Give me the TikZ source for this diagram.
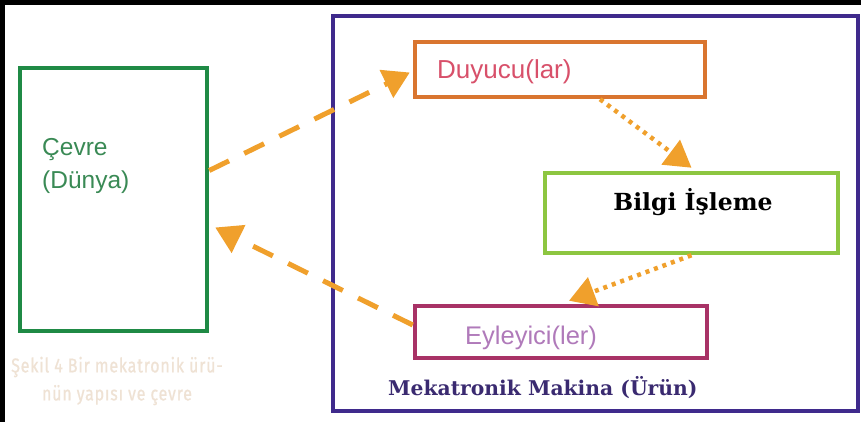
\documentclass[tikz,border=0pt]{standalone}
\usepackage{fontspec}
\setmainfont{DejaVu Serif}
\newfontfamily\lsans{Liberation Sans}
\newfontfamily\capfont[FakeStretch=0.8,LetterSpace=4,FakeBold=0.6]{Fira Sans}
\usetikzlibrary{arrows.meta}
\definecolor{gbox}{HTML}{1F8A45}
\definecolor{pbox}{HTML}{3F2A8C}
\definecolor{obox}{HTML}{D9752F}
\definecolor{lgbox}{HTML}{8DC641}
\definecolor{mbox}{HTML}{A83266}
\definecolor{arr}{HTML}{F0A02C}
\definecolor{duytxt}{HTML}{D8506A}
\definecolor{eyltxt}{HTML}{B07ABA}
\definecolor{mektxt}{HTML}{3A2A70}
\definecolor{cevtxt}{HTML}{3A8A55}
\definecolor{captxt}{HTML}{EFE2D4}
\tikzset{
  box/.style={draw, rectangle, inner sep=0pt, line width=4.5pt},
  dasharrow/.style={draw=arr, line width=5pt, dash pattern=on 22pt off 17pt, -{Triangle[length=26pt,width=30pt,fill=arr]}, shorten >=0pt},
  dotarrow/.style={draw=arr, line width=4.5pt, dash pattern=on 4pt off 5pt, -{Triangle[length=26pt,width=30pt,fill=arr]}},
}
\begin{document}
\begin{tikzpicture}[x=1pt,y=-1pt]
\useasboundingbox (0,0) rectangle (861,422);
\fill[white] (0,0) rectangle (861,422);
\fill[black] (0,0) rectangle (861,5);
\fill[black] (0,0) rectangle (5,422);
% boxes
\node[box, draw=gbox, minimum width=187pt, minimum height=263pt] (green) at (113.5,199.5) {};
\node[box, draw=pbox, line width=3.5pt, minimum width=525pt, minimum height=395pt] (outer) at (595.5,213.5) {};
\node[box, draw=obox, minimum width=290pt, minimum height=55pt] (duy) at (560,69.5) {};
\node[box, draw=lgbox, minimum width=293pt, minimum height=80pt] (bilgi) at (691.5,213) {};
\node[box, draw=mbox, minimum width=292pt, minimum height=52pt] (eyl) at (561,332) {};
% texts
\node[anchor=west, text=duytxt, font=\lsans\fontsize{26}{30}\selectfont, inner sep=0pt] (duyt) at (437,72) {Duyucu(lar)};
\node[text=black, font=\bfseries\fontsize{23.5}{28}\selectfont, inner sep=0pt] (bilgit) at (693,202) {Bilgi İşleme};
\node[anchor=west, text=eyltxt, font=\lsans\fontsize{25.5}{30}\selectfont, inner sep=0pt] (eylt) at (465,338) {Eyleyici(ler)};
\node[anchor=west, text=mektxt, font=\bfseries\fontsize{20.3}{24}\selectfont, inner sep=0pt] (mekt) at (388,388) {Mekatronik Makina (Ürün)};
\node[anchor=west, text=cevtxt, font=\lsans\fontsize{24.5}{33}\selectfont, align=left, inner sep=0pt] (cevt) at (42,166) {Çevre\\(Dünya)};
\node[text=captxt, font=\capfont\fontsize{20}{28}\selectfont, align=center, inner sep=0pt] (capt) at (117,381) {Şekil 4 Bir mekatronik ürü-\\nün yapısı ve çevre};
% arrows
\draw[dasharrow] ([yshift=29pt]green.east) -- ([xshift=-3pt,yshift=-3pt]duy.west);
\draw[dotarrow] ([xshift=40pt]duy.south) -- ([yshift=3pt]bilgi.north);
\draw[dotarrow] (bilgi.south) -- ([xshift=8pt,yshift=3pt]eyl.north);
\draw[dasharrow] ([yshift=7pt]eyl.west) -- ([xshift=6pt,yshift=-28pt]green.east);
\end{tikzpicture}
\end{document}
